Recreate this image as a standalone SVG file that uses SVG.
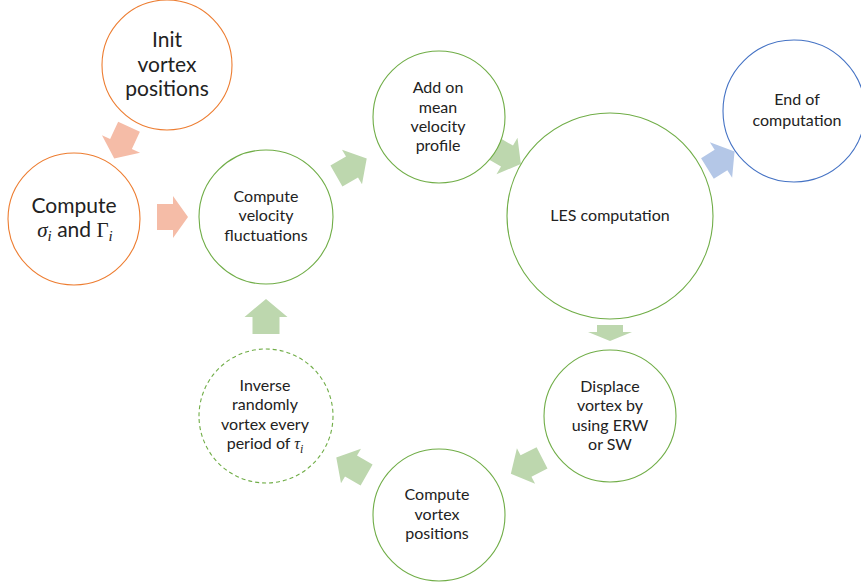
<svg xmlns="http://www.w3.org/2000/svg" width="861" height="584" viewBox="0 0 861 584">
<style>
.bg{fill:#ffffff}
.or{fill:#ffffff;stroke:#ED7D31;stroke-width:1.1}
.gr{fill:#ffffff;stroke:#70AD47;stroke-width:1.1}
.grd{fill:#ffffff;stroke:#70AD47;stroke-width:1.1;stroke-dasharray:4 3}
.bl{fill:#ffffff;stroke:#4472C4;stroke-width:1.1}
.aor{fill:#F5BCA7}
.agr{fill:#BDD7AE}
.abl{fill:#B4C7E7}
text{font-family:Lato,"Noto Sans","Liberation Sans",sans-serif;fill:#222222;text-anchor:middle}
.s{font-size:16px}
.b{font-size:21px}
.m{font-family:"Liberation Serif","DejaVu Serif",serif}
</style>
<rect class="bg" x="0" y="0" width="861" height="584"/>
<g id="connectors">
<path class="aor" transform="translate(121,144) rotate(115)" d="M-19,-12 L0,-12 L0,-21 L16,0 L0,21 L0,12 L-19,12 Z"/>
<path class="aor" transform="translate(173,217)" d="M-16,-13 L0,-13 L0,-21 L15,0 L0,21 L0,13 L-16,13 Z"/>
<path class="agr" transform="translate(352,167) rotate(-30)" d="M-18,-12 L0,-12 L0,-20 L17,0 L0,20 L0,12 L-18,12 Z"/>
<path class="agr" transform="translate(507,156) rotate(30)" d="M-16,-12 L0,-12 L0,-21 L16,0 L0,21 L0,12 L-16,12 Z"/>
<path class="abl" transform="translate(721,160) rotate(-32)" d="M-16,-12 L0,-12 L0,-21 L16,0 L0,21 L0,12 L-16,12 Z"/>
<path class="agr" transform="translate(610,332) rotate(90)" d="M-7,-13 L0,-13 L0,-22 L9,0 L0,22 L0,13 L-7,13 Z"/>
<path class="agr" transform="translate(526,466) rotate(153)" d="M-18,-12 L0,-12 L0,-20 L17,0 L0,20 L0,12 L-18,12 Z"/>
<path class="agr" transform="translate(351,466) rotate(210)" d="M-18,-12 L0,-12 L0,-20 L17,0 L0,20 L0,12 L-18,12 Z"/>
<path class="agr" transform="translate(266,317) rotate(-90)" d="M-17,-13.5 L0,-13.5 L0,-21.5 L18,0 L0,21.5 L0,13.5 L-17,13.5 Z"/>
</g>
<g id="init">
<circle class="or" cx="167" cy="65" r="65"/>
<text class="b" x="167" y="47">Init</text>
<text class="b" x="167" y="72">vortex</text>
<text class="b" x="167" y="96">positions</text>
</g>
<g id="sigma">
<circle class="or" cx="74" cy="219" r="66"/>
<text class="b" x="74" y="213">Compute</text>
<text class="b" x="75" y="237"><tspan class="m" font-style="italic">σ</tspan><tspan class="m" font-style="italic" font-size="15" dy="4">i</tspan><tspan dy="-4"> and </tspan><tspan class="m">Γ</tspan><tspan class="m" font-style="italic" font-size="15" dy="4">i</tspan></text>
</g>
<g id="velfluct">
<circle class="gr" cx="266" cy="217" r="67"/>
<text class="s" x="266" y="202">Compute</text>
<text class="s" x="266" y="221">velocity</text>
<text class="s" x="266" y="241">fluctuations</text>
</g>
<g id="addon">
<circle class="gr" cx="439" cy="117" r="66"/>
<text class="s" x="438" y="93">Add on</text>
<text class="s" x="438" y="113">mean</text>
<text class="s" x="438" y="132">velocity</text>
<text class="s" x="438" y="151">profile</text>
</g>
<g id="les">
<circle class="gr" cx="610" cy="216" r="103"/>
<text class="s" x="610" y="221">LES computation</text>
</g>
<g id="end">
<circle class="bl" cx="794" cy="111" r="71"/>
<text class="s" x="797" y="105">End of</text>
<text class="s" x="797" y="126">computation</text>
</g>
<g id="displace">
<circle class="gr" cx="610" cy="416" r="66"/>
<text class="s" x="610" y="392">Displace</text>
<text class="s" x="610" y="411">vortex by</text>
<text class="s" x="610" y="431">using ERW</text>
<text class="s" x="610" y="450">or SW</text>
</g>
<g id="vortexpos">
<circle class="gr" cx="439" cy="515" r="66"/>
<text class="s" x="437" y="500">Compute</text>
<text class="s" x="437" y="520">vortex</text>
<text class="s" x="437" y="539">positions</text>
</g>
<g id="inverse">
<circle class="grd" cx="266" cy="416" r="67"/>
<text class="s" x="265" y="391">Inverse</text>
<text class="s" x="265" y="410">randomly</text>
<text class="s" x="265" y="430">vortex every</text>
<text class="s" x="265" y="449">period of <tspan class="m" font-style="italic">τ</tspan><tspan class="m" font-style="italic" font-size="12" dy="4">i</tspan></text>
</g>
</svg>
